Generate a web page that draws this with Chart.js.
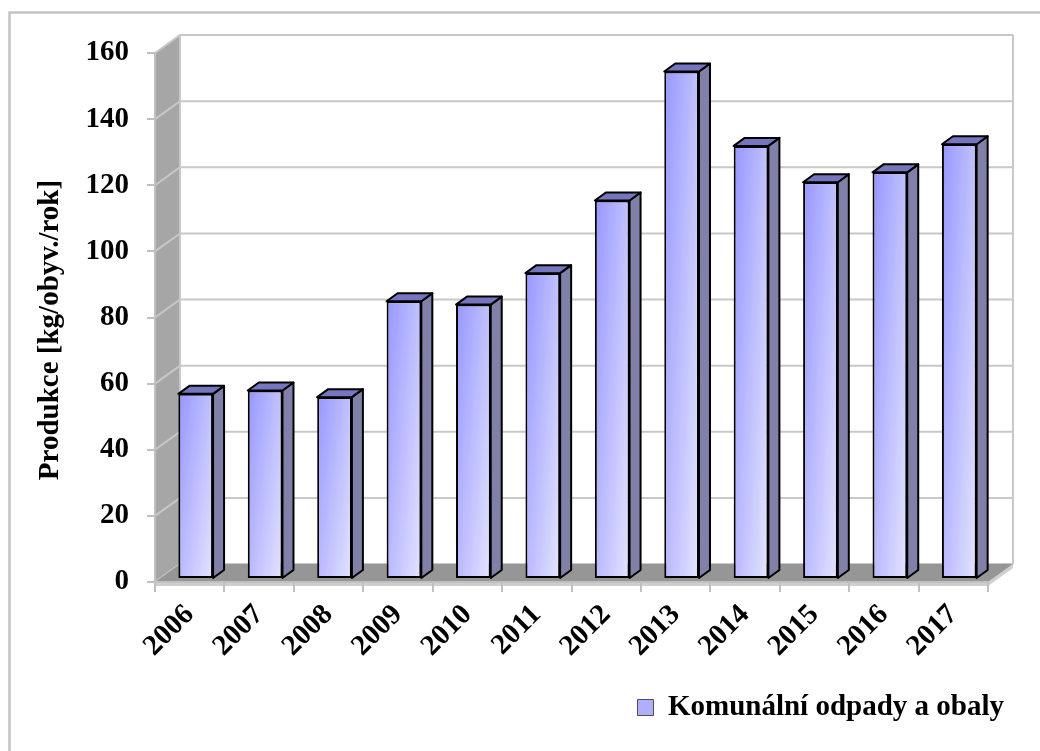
<!DOCTYPE html>
<html>
<head>
<meta charset="utf-8">
<script src="https://cdn.jsdelivr.net/npm/chart.js@4.4.1/dist/chart.umd.min.js"></script>
<style>
  html, body { margin: 0; padding: 0; background: #fff; }
  #wrap { width: 1040px; height: 751px; position: relative; }
</style>
</head>
<body>
<div id="wrap"><canvas id="wasteChart"></canvas></div>
<script>
// data
const years = ['2006', '2007', '2008', '2009', '2010', '2011', '2012', '2013', '2014', '2015', '2016', '2017'];
const production = [56, 57, 55, 84, 83, 92.5, 114.5, 153.5, 131, 120, 123, 131.5];
const yTicks = [0, 20, 40, 60, 80, 100, 120, 140, 160];
const seriesName = 'Komunální odpady a obaly';
const axisTitle = 'Produkce [kg/obyv./rok]';

const FONT = "'Liberation Serif', 'Times New Roman', serif";
const FS = 29;
const WALL = { x: 25, y: 18 };       // depth of the 3D walls
const SHIFT = { x: 6, y: -3 };       // bars stand a bit behind the front edge
const BAR = { x: 11, y: 8 };         // depth of each bar

function poly(ctx, pts) {
  ctx.beginPath();
  ctx.moveTo(pts[0][0], pts[0][1]);
  for (let i = 1; i < pts.length; i++) ctx.lineTo(pts[i][0], pts[i][1]);
  ctx.closePath();
}

// draws the walls, floor, bar sides and the outer frame
const fake3d = {
  id: 'fake3d',
  beforeDraw(chart) {
    const { ctx, chartArea: a, scales } = chart;
    const dx = WALL.x, dy = WALL.y;
    ctx.save();
    ctx.fillStyle = '#fff';
    ctx.fillRect(0, 0, chart.width, chart.height);

    ctx.strokeStyle = '#c4c4c4';
    ctx.lineWidth = 2.5;
    ctx.strokeRect(9.5, 12.5, chart.width + 20, chart.height + 20);

    // left wall
    ctx.fillStyle = '#a6a6a6';
    poly(ctx, [[a.left, a.top], [a.left + dx, a.top - dy], [a.left + dx, a.bottom - dy], [a.left, a.bottom]]);
    ctx.fill();

    // gridlines on the walls
    ctx.strokeStyle = '#c8c8c8';
    ctx.lineWidth = 2;
    yTicks.forEach(v => {
      const y = scales.y.getPixelForValue(v);
      ctx.beginPath();
      ctx.moveTo(a.left, y);
      ctx.lineTo(a.left + dx, y - dy);
      ctx.lineTo(a.right + dx, y - dy);
      ctx.stroke();
    });
    ctx.beginPath();
    ctx.moveTo(a.left + dx, a.top - dy);
    ctx.lineTo(a.left + dx, a.bottom - dy);
    ctx.moveTo(a.right + dx, a.top - dy);
    ctx.lineTo(a.right + dx, a.bottom - dy);
    ctx.stroke();

    // floor edge + floor
    ctx.fillStyle = '#cfcfcf';
    poly(ctx, [[a.left, a.bottom], [a.right, a.bottom], [a.right + dx, a.bottom - dy],
               [a.right + dx, a.bottom - dy + 4], [a.right, a.bottom + 4], [a.left, a.bottom + 4]]);
    ctx.fill();
    ctx.fillStyle = '#969696';
    poly(ctx, [[a.left, a.bottom], [a.left + dx, a.bottom - dy], [a.right + dx, a.bottom - dy], [a.right, a.bottom]]);
    ctx.fill();
    ctx.restore();
  },
  beforeDatasetsDraw(chart) {
    chart.ctx.save();
    chart.ctx.translate(SHIFT.x, SHIFT.y);
  },
  afterDatasetsDraw(chart) {
    const ctx = chart.ctx;
    ctx.lineWidth = 2;
    ctx.lineJoin = 'round';
    ctx.strokeStyle = '#000';
    chart.getDatasetMeta(0).data.forEach(bar => {
      const l = bar.x - bar.width / 2, r = bar.x + bar.width / 2;
      const top = bar.y, base = bar.base;
      ctx.fillStyle = 'rgb(128,128,168)';
      poly(ctx, [[r, top], [r + BAR.x, top - BAR.y], [r + BAR.x, base - BAR.y], [r, base]]);
      ctx.fill(); ctx.stroke();
      ctx.fillStyle = 'rgb(118,118,192)';
      poly(ctx, [[l, top], [l + BAR.x, top - BAR.y], [r + BAR.x, top - BAR.y], [r, top]]);
      ctx.fill(); ctx.stroke();
    });
    ctx.restore();
  },
  afterDraw(chart) {
    const ctx = chart.ctx;
    ctx.save();
    ctx.translate(51, 330);
    ctx.rotate(-Math.PI / 2);
    ctx.font = 'bold ' + FS + 'px ' + FONT;
    ctx.fillStyle = '#000';
    ctx.textAlign = 'center';
    ctx.textBaseline = 'middle';
    ctx.fillText(axisTitle, 0, 0);
    ctx.restore();
  }
};

// front face shading: darker top-left, lighter bottom-right
function barFill(c) {
  const chart = c.chart, a = chart.chartArea;
  if (!a || c.type !== 'data') return 'rgb(170,170,255)';
  const x = chart.scales.x.getPixelForValue(c.dataIndex);
  const w = (a.right - a.left) / years.length * 0.5;
  const top = chart.scales.y.getPixelForValue(c.raw);
  const h = Math.max(a.bottom - top, 1);
  const ka = 45, kb = 35;
  const gx = ka / w / (ka + kb), gy = kb / h / (ka + kb);
  const n = gx * gx + gy * gy;
  const l = x - w / 2;
  const g = chart.ctx.createLinearGradient(l, top, l + gx / n, top + gy / n);
  g.addColorStop(0, 'rgb(150,150,255)');
  g.addColorStop(1, 'rgb(228,228,255)');
  return g;
}

const ctx = document.getElementById('wasteChart').getContext('2d');
new Chart(ctx, {
  type: 'bar',
  data: {
    labels: years,
    datasets: [{
      label: seriesName,
      data: production,
      backgroundColor: barFill,
      borderColor: '#000',
      borderWidth: 2,
      borderSkipped: false,
      barPercentage: 0.5,
      categoryPercentage: 1
    }]
  },
  options: {
    responsive: true,
    maintainAspectRatio: false,
    animation: false,
    layout: { padding: { left: 0, top: 53, right: 30, bottom: 19 } },
    plugins: {
      tooltip: { enabled: false },
      legend: {
        position: 'bottom',
        align: 'end',
        labels: {
          color: '#000',
          font: { family: FONT, size: FS, weight: 'bold' },
          boxWidth: 16,
          boxHeight: 16,
          padding: 6,
          generateLabels: () => [{
            text: seriesName,
            fillStyle: 'rgb(175,175,255)',
            strokeStyle: '#4d4d4d',
            lineWidth: 1,
            hidden: false,
            datasetIndex: 0
          }]
        }
      }
    },
    scales: {
      x: {
        grid: { drawOnChartArea: false, drawTicks: true, tickLength: 10, color: '#c0c0c0', lineWidth: 2 },
        border: { color: '#c0c0c0', width: 2 },
        ticks: {
          color: '#000',
          font: { family: FONT, size: FS, weight: 'bold' },
          maxRotation: 45,
          minRotation: 45,
          autoSkip: false,
          padding: 6
        },
        afterFit: s => { s.height = 105; }
      },
      y: {
        min: 0,
        max: 160,
        grid: { drawOnChartArea: false, drawTicks: true, tickLength: 8, color: '#c0c0c0', lineWidth: 2 },
        border: { color: '#c0c0c0', width: 2 },
        ticks: {
          stepSize: 20,
          color: '#000',
          font: { family: FONT, size: FS, weight: 'bold' },
          padding: 18
        },
        afterFit: s => { s.width = 155; }
      },
      spacer: {
        type: 'linear',
        position: 'right',
        grid: { display: false },
        border: { display: false },
        ticks: { display: false },
        afterFit: s => { s.width = 22; }
      }
    }
  },
  plugins: [fake3d]
});
</script>
</body>
</html>
